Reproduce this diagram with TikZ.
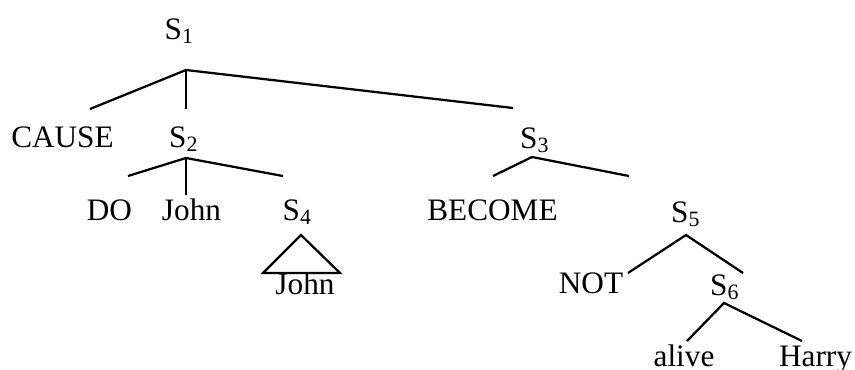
\documentclass[tikz,border=0pt]{standalone}
\usepackage{fontspec}
\setmainfont{Liberation Serif}
\usetikzlibrary{positioning}
\begin{document}
\begin{tikzpicture}[
    x=0.4pt, y=-0.4pt,
    line width=0.9pt,
    lbl/.style={anchor=base, inner sep=0pt, font=\fontsize{12.5}{15}\selectfont}
]
    \useasboundingbox (0,0) rectangle (855,369);

    % Labels
    \node[lbl] (s1) at (179.5,39) {S\textsubscript{1}};
    \node[lbl] (cause) at (62.5,147) {CAUSE};
    \node[lbl] (s2) at (184,147) {S\textsubscript{2}};
    \node[lbl] (s3) at (535,148) {S\textsubscript{3}};
    \node[lbl] (do) at (109.5,220) {DO};
    \node[lbl] (john) at (191.5,220) {John};
    \node[lbl] (s4) at (297.5,220) {S\textsubscript{4}};
    \node[lbl] (become) at (492.5,220) {BECOME};
    \node[lbl] (s5) at (686,222) {S\textsubscript{5}};
    \node[lbl] (johnb) at (305,294) {John};
    \node[lbl] (not) at (591,293) {NOT};
    \node[lbl] (s6) at (725,295) {S\textsubscript{6}};
    \node[lbl] (alive) at (684,366) {alive};
    \node[lbl] (harry) at (815.5,366) {Harry};

    % Branch points
    \coordinate (s1top) at (186,70);
    \coordinate (s1a) at (90,109);
    \coordinate (s1b) at (186,109);
    \coordinate (s1c) at (513,108);
    \coordinate (s2top) at (186,158);
    \coordinate (s2a) at (128,176);
    \coordinate (s2b) at (186,195);
    \coordinate (s2c) at (283,176);
    \coordinate (s3top) at (532,157);
    \coordinate (s3a) at (493,176);
    \coordinate (s3b) at (629,176);
    \coordinate (s4top) at (301,235);
    \coordinate (s4a) at (263,273);
    \coordinate (s4b) at (340,273);
    \coordinate (s5top) at (686,235);
    \coordinate (s5a) at (628,273);
    \coordinate (s5b) at (743,273);
    \coordinate (s6top) at (724,303);
    \coordinate (s6a) at (687,341);
    \coordinate (s6b) at (802,341);

    % Branches
    \draw (s1a) -- (s1top) -- (s1c);
    \draw (s1top) -- (s1b);
    \draw (s2a) -- (s2top) -- (s2c);
    \draw (s2top) -- (s2b);
    \draw (s3a) -- (s3top) -- (s3b);
    \draw (s4a) -- (s4top) -- (s4b) -- cycle;
    \draw (s5a) -- (s5top) -- (s5b);
    \draw (s6a) -- (s6top) -- (s6b);
\end{tikzpicture}
\end{document}
